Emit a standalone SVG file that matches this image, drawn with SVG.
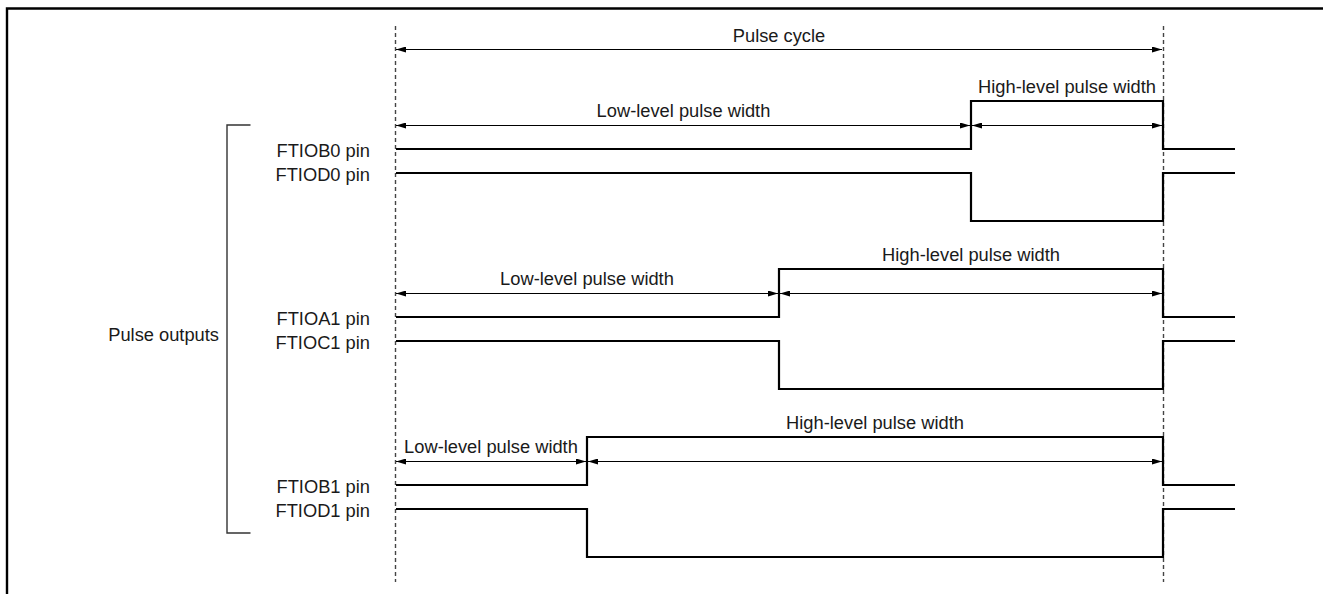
<svg xmlns="http://www.w3.org/2000/svg" width="1323" height="594" viewBox="0 0 1323 594">
<style>
text{font-family:"Liberation Sans",Arial,sans-serif;font-size:18.3px;fill:#1a1a1a}
.pin{text-anchor:end}
.mid{text-anchor:middle}
.sig{fill:none;stroke:#000;stroke-width:2.2;stroke-linejoin:miter}
.dim{fill:none;stroke:#000;stroke-width:1;marker-start:url(#ah);marker-end:url(#ah)}
.dash{fill:none;stroke:#444;stroke-width:1.4;stroke-dasharray:4 3}
</style>
<defs>
<marker id="ah" viewBox="0 0 10 6" refX="10" refY="3" markerWidth="10" markerHeight="6" markerUnits="userSpaceOnUse" orient="auto-start-reverse">
<path d="M0,0 L10,3 L0,6 Z" fill="#000"/>
</marker>
</defs>
<rect width="1323" height="594" fill="#fff"/>
<g id="frame">
<path d="M7,594 V8.5 H1323" fill="none" stroke="#000" stroke-width="2.4"/>
</g>
<g id="guides">
<line class="dash" x1="395.5" y1="26" x2="395.5" y2="582"/>
<line class="dash" x1="1163.5" y1="26" x2="1163.5" y2="582"/>
</g>
<g id="bracket">
<path d="M250.5,125 H227 V533 H250.5" fill="none" stroke="#333" stroke-width="1.4"/>
<text x="219" y="341" class="pin">Pulse outputs</text>
</g>
<g id="labels">
<text x="370" y="157" class="pin">FTIOB0 pin</text>
<text x="370" y="181" class="pin">FTIOD0 pin</text>
<text x="370" y="325" class="pin">FTIOA1 pin</text>
<text x="370" y="349" class="pin">FTIOC1 pin</text>
<text x="370" y="493" class="pin">FTIOB1 pin</text>
<text x="370" y="517" class="pin">FTIOD1 pin</text>
</g>
<g id="signals">
<path class="sig" d="M396,149 H971 V101 H1163 V149 H1235"/>
<path class="sig" d="M396,173 H971 V221 H1163 V173 H1235"/>
<path class="sig" d="M396,317 H779 V269 H1163 V317 H1235"/>
<path class="sig" d="M396,341 H779 V389 H1163 V341 H1235"/>
<path class="sig" d="M396,485 H587 V437 H1163 V485 H1235"/>
<path class="sig" d="M396,509 H587 V557 H1163 V509 H1235"/>
</g>
<g id="connectors">
<line class="dim" x1="396" y1="49.5" x2="1162" y2="49.5"/>
<line class="dim" x1="396" y1="125.5" x2="970" y2="125.5"/>
<line class="dim" x1="972" y1="125.5" x2="1162" y2="125.5"/>
<line class="dim" x1="396" y1="293.5" x2="778" y2="293.5"/>
<line class="dim" x1="780" y1="293.5" x2="1162" y2="293.5"/>
<line class="dim" x1="396" y1="461.5" x2="586" y2="461.5"/>
<line class="dim" x1="588" y1="461.5" x2="1162" y2="461.5"/>
</g>
<g id="dimtext">
<text x="779" y="42" class="mid">Pulse cycle</text>
<text x="683.5" y="117" class="mid">Low-level pulse width</text>
<text x="1067" y="93" class="mid">High-level pulse width</text>
<text x="587" y="285" class="mid">Low-level pulse width</text>
<text x="971" y="261" class="mid">High-level pulse width</text>
<text x="491" y="453" class="mid">Low-level pulse width</text>
<text x="875" y="429" class="mid">High-level pulse width</text>
</g>
</svg>
